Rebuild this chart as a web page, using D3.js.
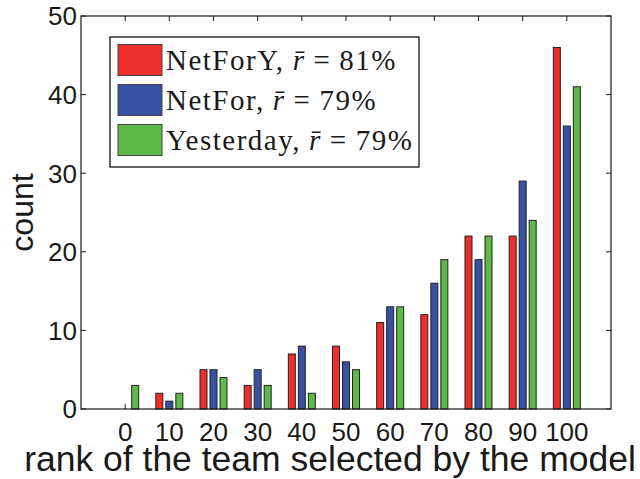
<!DOCTYPE html>
<html>
<head>
<meta charset="utf-8">
<script src="https://cdn.jsdelivr.net/npm/d3@7"></script>
<style>
  html, body { margin: 0; padding: 0; background: #fff; }
  svg { display: block; }
</style>
</head>
<body>
<svg id="chart" width="640" height="479"></svg>
<script>
// ---- data ----
const categories = [0, 10, 20, 30, 40, 50, 60, 70, 80, 90, 100];
const netForY   = [0, 2, 5, 3, 7, 8, 11, 12, 22, 22, 46];
const netFor    = [0, 1, 5, 5, 8, 6, 13, 16, 19, 29, 36];
const yesterday = [3, 2, 4, 3, 2, 5, 13, 19, 22, 24, 41];
const seriesNames = ["NetForY", "NetFor", "Yesterday"];
const seriesRbar = ["81%", "79%", "79%"];
const seriesColors = ["#ee2e2e", "#3852a3", "#5dba47"];
const yTicks = [0, 10, 20, 30, 40, 50];
const xLabel = "rank of the team selected by the model";
const yLabel = "count";

const seriesValues = [netForY, netFor, yesterday];

// ---- layout ----
const L = 81, R = 611, T = 16, B = 409;
const svg = d3.select("#chart");

const x = d3.scaleLinear().domain([-1, categories.length]).range([L, R]);
const y = d3.scaleLinear().domain([0, 50]).range([B, T]);

const pitch = x(0.2266) - x(0);
const barW = 7;

// ticks (drawn beneath bars)
const tickLen = 5;
const axisColor = "#1a1a1a";
const tg = svg.append("g").attr("stroke", axisColor).attr("stroke-width", 1);
categories.forEach((c, i) => {
  tg.append("line").attr("x1", x(i)).attr("x2", x(i)).attr("y1", B).attr("y2", B - tickLen);
  tg.append("line").attr("x1", x(i)).attr("x2", x(i)).attr("y1", T).attr("y2", T + tickLen);
});
yTicks.forEach(v => {
  tg.append("line").attr("x1", L).attr("x2", L + tickLen).attr("y1", y(v)).attr("y2", y(v));
  tg.append("line").attr("x1", R).attr("x2", R - tickLen).attr("y1", y(v)).attr("y2", y(v));
});

// bars
seriesValues.forEach((vals, j) => {
  svg.append("g").selectAll("rect")
    .data(vals)
    .join("rect")
    .attr("x", (d, i) => x(i) + (j - 1) * pitch - barW / 2)
    .attr("y", d => y(d))
    .attr("width", barW)
    .attr("height", d => B - y(d))
    .attr("fill", seriesColors[j])
    .attr("stroke", "#222")
    .attr("stroke-width", 1);
});

// frame
svg.append("rect")
  .attr("x", L).attr("y", T).attr("width", R - L).attr("height", B - T)
  .attr("fill", "none").attr("stroke", axisColor).attr("stroke-width", 1.2);

// tick labels
const tickFont = "Liberation Sans, Arial, Helvetica, sans-serif";
svg.append("g").selectAll("text")
  .data(categories)
  .join("text")
  .attr("x", (d, i) => x(i))
  .attr("y", 441)
  .attr("text-anchor", "middle")
  .attr("font-family", tickFont)
  .attr("font-size", 26)
  .attr("fill", "#1a1a1a")
  .text(d => d);

svg.append("g").selectAll("text")
  .data(yTicks)
  .join("text")
  .attr("x", L - 4)
  .attr("y", d => y(d))
  .attr("dy", "0.36em")
  .attr("text-anchor", "end")
  .attr("font-family", tickFont)
  .attr("font-size", 26)
  .attr("fill", "#1a1a1a")
  .text(d => d);

// axis labels
svg.append("text")
  .attr("x", 330)
  .attr("y", 471)
  .attr("text-anchor", "middle")
  .attr("font-family", tickFont)
  .attr("font-size", 35.5)
  .attr("fill", "#1a1a1a")
  .text(xLabel);

svg.append("text")
  .attr("transform", `translate(33, ${(T + B) / 2}) rotate(-90)`)
  .attr("text-anchor", "middle")
  .attr("font-family", tickFont)
  .attr("font-size", 32)
  .attr("fill", "#1a1a1a")
  .text(yLabel);

// legend
const lg = svg.append("g");
lg.append("rect")
  .attr("x", 110).attr("y", 37).attr("width", 309).attr("height", 130)
  .attr("fill", "#fff").attr("stroke", "#111").attr("stroke-width", 1.3);
seriesNames.forEach((name, j) => {
  const rowY = 59.5 + j * 40;
  lg.append("rect")
    .attr("x", 118).attr("y", rowY - 15).attr("width", 44).attr("height", 31)
    .attr("fill", seriesColors[j]).attr("stroke", "#444").attr("stroke-width", 1);
  const t = lg.append("text")
    .attr("x", 166).attr("y", rowY + 10)
    .attr("font-family", "Liberation Serif, Times New Roman, serif")
    .attr("font-size", 29)
    .attr("letter-spacing", 1.5)
    .attr("fill", "#1a1a1a");
  t.append("tspan").text(name + ",");
  t.append("tspan").attr("dx", 8).attr("font-style", "italic").text("r\u0304");
  t.append("tspan").attr("dx", 8).text("=");
  t.append("tspan").attr("dx", 8).text(seriesRbar[j]);
});
</script>
</body>
</html>
